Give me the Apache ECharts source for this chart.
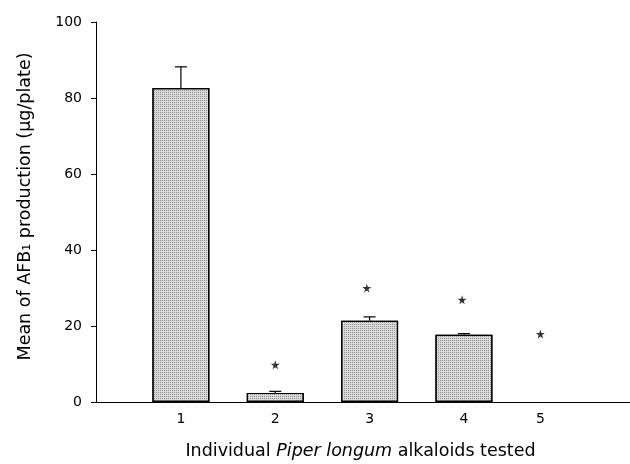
<!DOCTYPE html>
<html>
<head>
<meta charset="utf-8">
<script src="https://cdn.jsdelivr.net/npm/echarts@6/dist/echarts.min.js"></script>
<style>
  html, body { margin: 0; padding: 0; background: #fff; }
  #chart { width: 630px; height: 464px; }
</style>
</head>
<body>
<div id="chart"></div>
<script>
// alkaloid numbers and where they sit on the x axis (5 sits closer to 4 in the original)
const categories = ["1", "2", "3", "4", "5"];
const xPos = [1, 2, 3, 4, 4.81];
// mean AFB1 production (ug/plate) and upper error
const means = [82.6, 2.4, 21.4, 17.7, 0];
const errors = [5.6, 0.4, 1.0, 0.3, 0];
// asterisk heights (significance marks)
const starX = [2, 2.97, 3.98, 4.81];
const starY = [9.8, 30.0, 26.9, 17.9];
const yTicks = [0, 20, 40, 60, 80, 100];

const font = "DejaVu Sans, Arial, sans-serif";
const myChart = echarts.init(document.getElementById("chart"));

const option = {
  animation: false,
  grid: { left: 96, right: 0, top: 22, bottom: 62, outerBoundsMode: "none" },
  xAxis: {
    type: "value",
    min: 0.1,
    max: 5.76,
    name: "Individual {i|Piper longum} alkaloids tested",
    nameLocation: "middle",
    nameGap: 40,
    nameTextStyle: {
      fontFamily: font, fontSize: 17.5, color: "#000", padding: [0, 5, 0, 0],
      rich: { i: { fontFamily: font, fontSize: 17.5, fontStyle: "italic", color: "#000" } },
    },
    splitLine: { show: false },
    axisLine: { show: true, lineStyle: { color: "#000", width: 1 } },
    axisTick: { show: false },
    axisLabel: {
      customValues: xPos,
      margin: 10,
      fontFamily: font, fontSize: 14, color: "#000",
      formatter: (v) => categories[xPos.indexOf(v)] ?? "",
    },
  },
  yAxis: {
    type: "value",
    min: 0,
    max: 100,
    interval: 20,
    name: "Mean of AFB₁ production (µg/plate)",
    nameLocation: "middle",
    nameGap: 62,
    nameTextStyle: { fontFamily: font, fontSize: 17.5, color: "#000", padding: [0, 0, 0, 11] },
    splitLine: { show: false },
    axisLine: { show: true, lineStyle: { color: "#000", width: 1 } },
    axisTick: { show: true, length: 5, lineStyle: { color: "#000" } },
    axisLabel: {
      margin: 14,
      fontFamily: font, fontSize: 14, color: "#000",
      formatter: (v) => (yTicks.includes(v) ? String(v) : ""),
    },
  },
  series: [
    {
      type: "bar",
      barWidth: 57,
      data: xPos.map((x, i) => ({
        value: [x, means[i]],
        itemStyle: means[i] === 0 ? { borderWidth: 0 } : undefined,
      })),
      itemStyle: {
        color: "#d9d9d9",
        borderColor: "#000",
        borderWidth: 1.2,
        decal: {
          symbol: "rect",
          symbolSize: 1,
          dashArrayX: [1, 1],
          dashArrayY: [1, 1],
          color: "rgba(0,0,0,0.32)",
        },
      },
      z: 2,
    },
    {
      type: "custom",
      data: xPos.map((x, i) => [x, means[i], means[i] + errors[i]]),
      renderItem: function (params, api) {
        if (api.value(2) <= api.value(1)) return null;
        const lo = api.coord([api.value(0), api.value(1)]);
        const hi = api.coord([api.value(0), api.value(2)]);
        const style = { stroke: "#000", lineWidth: 1.2 };
        return {
          type: "group",
          children: [
            { type: "line", shape: { x1: lo[0], y1: lo[1], x2: hi[0], y2: hi[1] }, style },
            { type: "line", shape: { x1: hi[0] - 6, y1: hi[1], x2: hi[0] + 6, y2: hi[1] }, style },
          ],
        };
      },
      z: 3,
    },
    {
      type: "scatter",
      data: starX.map((x, i) => [x, starY[i]]),
      symbol: "path://M50,0 L61,35 L98,35 L68,57 L79,91 L50,70 L21,91 L32,57 L2,35 L39,35 Z",
      symbolSize: 9,
      itemStyle: { color: "#000" },
      z: 4,
    },
  ],
};

option && myChart.setOption(option);
</script>
</body>
</html>
